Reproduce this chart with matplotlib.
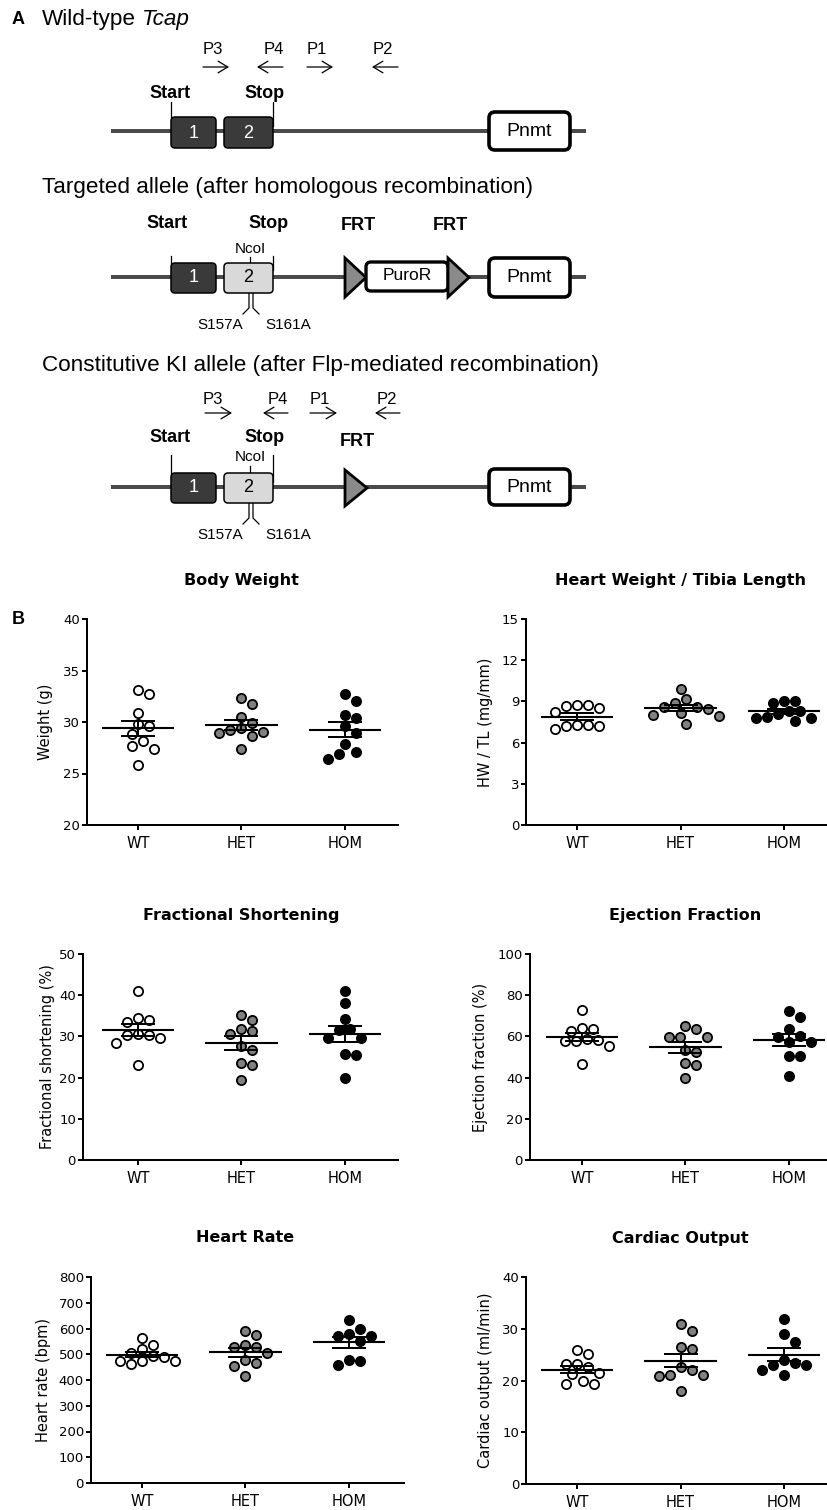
import numpy as np
import matplotlib
matplotlib.use("Agg")
import matplotlib.pyplot as plt
from matplotlib.patches import FancyBboxPatch, Polygon

# ---------------- data ----------------
groups = ["WT", "HET", "HOM"]

body_weight_wt = [32.7, 33.1, 30.9, 29.8, 29.6, 28.8, 27.7, 28.2, 27.4, 25.8]
body_weight_het = [32.3, 31.7, 30.5, 29.9, 29.2, 28.9, 28.6, 29.0, 29.4, 27.4]
body_weight_hom = [32.7, 32.0, 30.7, 30.4, 29.6, 28.9, 27.9, 27.1, 26.9, 26.4]

hwtl_wt = [8.75, 8.5, 8.2, 8.7, 8.75, 7.3, 7.2, 7.0, 7.2, 7.3]
hwtl_het = [9.9, 8.9, 9.2, 8.6, 8.6, 8.45, 8.0, 7.95, 8.15, 7.35]
hwtl_hom = [9.0, 8.9, 9.0, 8.1, 8.3, 7.8, 7.6, 7.8, 7.9, 8.3]

fs_wt = [41.0, 34.4, 33.6, 34.0, 30.3, 29.5, 28.5, 30.3, 30.7, 23.1]
fs_het = [35.2, 34.1, 31.4, 31.8, 30.5, 26.7, 27.7, 23.6, 23.1, 19.3]
fs_hom = [40.9, 38.2, 34.2, 31.6, 31.8, 29.5, 29.5, 25.7, 25.5, 20.0]

ef_wt = [72.8, 63.9, 62.6, 63.4, 57.9, 57.6, 58.3, 58.7, 55.3, 46.4]
ef_het = [65.2, 63.4, 59.5, 59.9, 59.5, 52.6, 53.4, 47.2, 46.3, 39.6]
ef_hom = [72.5, 69.3, 63.4, 60.4, 59.9, 57.4, 57.5, 50.5, 50.5, 40.9]

hr_wt = [505, 537, 520, 563, 488, 472, 462, 472, 475, 492]
hr_het = [589, 573, 527, 537, 527, 505, 479, 466, 453, 414]
hr_hom = [634, 579, 598, 570, 570, 553, 479, 475, 457]

co_wt = [25.1, 25.9, 23.2, 22.7, 23.2, 21.4, 21.2, 19.9, 19.3, 19.3]
co_het = [30.9, 29.5, 26.1, 26.4, 22.1, 22.6, 21.0, 20.8, 21.0, 18.0]
co_hom = [31.9, 29.0, 27.4, 23.4, 23.0, 24.0, 23.0, 22.1, 21.0]

# ---------------- figure ----------------
W, H, DPI = 828, 1510, 100
fig = plt.figure(figsize=(W / DPI, H / DPI), dpi=DPI)
PT = 72.0 / DPI  # points per pixel

# ================= Panel A: schematic =================
SANS = ["Liberation Sans", "DejaVu Sans"]
TITLE_FS = 16.2
axA = fig.add_axes([0, 1 - 560 / H, 1, 560 / H])
axA.set_xlim(0, W)
axA.set_ylim(560, 0)
axA.axis("off")

LINE_C = "#4a4a4a"
DARK = "#3a3a3a"
LIGHT = "#d9d9d9"
TRI_C = "#8a8a8a"


def txt(x, y, s, size, weight="normal", color="black", style="normal"):
    return axA.text(x, y, s, fontsize=size, fontweight=weight, color=color,
                    fontstyle=style, ha="center", va="center", family=SANS)


def rbox(x0, x1, y0, y1, fc, lw, r=4):
    axA.add_patch(FancyBboxPatch((x0, y0), x1 - x0, y1 - y0,
                                 boxstyle=f"round,pad=0,rounding_size={r}",
                                 fc=fc, ec="black", lw=lw, zorder=3))


def gene_line(y):
    axA.plot([111, 586], [y, y], color=LINE_C, lw=4 * PT, zorder=1,
             solid_capstyle="butt")


def vtick(x, y0, y1):
    axA.plot([x, x], [y0, y1], color="black", lw=0.9, zorder=2)


def primer(x0, x1, y):
    axA.annotate("", xy=(x1, y), xytext=(x0, y),
                 arrowprops=dict(arrowstyle="->,head_length=0.5,head_width=0.3",
                                 lw=0.9, color="black", mutation_scale=14,
                                 shrinkA=0, shrinkB=0))


def triangle(x0, ytop, ybot, xtip):
    axA.add_patch(Polygon([(x0, ytop), (x0, ybot), (xtip, (ytop + ybot) / 2)],
                          closed=True, fc=TRI_C, ec="black", lw=2.0,
                          joinstyle="miter", zorder=3))


def bracket(ybox, y_mid, y_end):
    axA.plot([249, 249, 243], [ybox, y_mid, y_end], color="black", lw=0.9)
    axA.plot([253, 253, 259], [ybox, y_mid, y_end], color="black", lw=0.9)


# panel letter + titles
axA.text(12, 20, "A", fontsize=13, fontweight="bold", ha="left", va="center", family=SANS)
t_wt = axA.text(42, 20, "Wild-type", fontsize=TITLE_FS, ha="left", va="center",
                family=SANS)
renderer = fig.canvas.get_renderer()
bb = t_wt.get_window_extent(renderer)
space_px = 0.278 * TITLE_FS / PT
axA.text(bb.x1 + space_px, 20, "Tcap", fontsize=TITLE_FS, fontstyle="italic",
         ha="left", va="center", family=SANS)
axA.text(42, 188, "Targeted allele (after homologous recombination)", fontsize=TITLE_FS,
         ha="left", va="center", family=SANS)
axA.text(42, 365, "Constitutive KI allele (after Flp-mediated recombination)",
         fontsize=TITLE_FS, ha="left", va="center", family=SANS)

# --- allele 1: wild type ---
for lab, xl, (a0, a1) in [("P3", 213, (203, 229)), ("P4", 274, (283, 257)),
                          ("P1", 317, (307, 333)), ("P2", 383, (398, 372))]:
    txt(xl, 50, lab, 12)
    primer(a0, a1, 67)
gene_line(131)
txt(170, 93, "Start", 13, "bold")
txt(265, 93, "Stop", 13, "bold")
vtick(171, 102, 117)
vtick(273, 102, 126)
rbox(171, 216, 117, 148, DARK, 1.1)
rbox(224, 273, 117, 148, DARK, 1.1)
txt(193.5, 133, "1", 13, color="white")
txt(248.5, 133, "2", 13, color="white")
rbox(489, 570, 112, 150, "white", 2.6, r=6)
txt(529.5, 131, "Pnmt", 14)

# --- allele 2: targeted ---
gene_line(277)
txt(167, 224, "Start", 13, "bold")
txt(269, 224, "Stop", 13, "bold")
txt(358, 226, "FRT", 13, "bold")
txt(450, 226, "FRT", 13, "bold")
txt(250, 249, "NcoI", 11)
vtick(171, 256, 263)
vtick(273, 256, 270)
vtick(250, 257, 263)
rbox(171, 216, 263, 293, DARK, 1.1)
rbox(224, 273, 263, 293, LIGHT, 1.1)
txt(193.5, 278, "1", 13, color="white")
txt(248.5, 278, "2", 13)
bracket(293, 308, 314)
txt(220, 325, "S157A", 11)
txt(288, 325, "S161A", 11)
triangle(345, 258, 297, 366)
rbox(366, 448, 262, 291, "white", 2.4, r=5)
txt(407, 275, "PuroR", 12.5)
triangle(448, 258, 297, 469)
rbox(489, 570, 258, 297, "white", 2.6, r=6)
txt(529.5, 278, "Pnmt", 14)

# --- allele 3: constitutive KI ---
for lab, xl, (a0, a1) in [("P3", 213, (205, 232)), ("P4", 278, (288, 263)),
                          ("P1", 320, (310, 337)), ("P2", 387, (400, 375))]:
    txt(xl, 400, lab, 12)
    primer(a0, a1, 413)
gene_line(487)
txt(170, 438, "Start", 13, "bold")
txt(265, 438, "Stop", 13, "bold")
txt(357, 442, "FRT", 13, "bold")
txt(250, 457, "NcoI", 11)
vtick(171, 455, 473)
vtick(273, 455, 482)
vtick(250, 466, 473)
rbox(171, 216, 473, 503, DARK, 1.1)
rbox(224, 273, 473, 503, LIGHT, 1.1)
txt(193.5, 488, "1", 13, color="white")
txt(248.5, 488, "2", 13)
bracket(503, 518, 524)
txt(220, 535, "S157A", 11)
txt(288, 535, "S161A", 11)
triangle(345, 470, 506, 367)
rbox(489, 570, 469, 505, "white", 2.6, r=6)
txt(529.5, 487, "Pnmt", 14)

# ================= Panel B: scatter plots =================
plt.rcParams["font.family"] = ["DejaVu Sans"]
fig.text(12 / W, 1 - 620 / H, "B", fontsize=13, fontweight="bold", ha="left",
         va="center", family=SANS)

FILLS = ["white", "#808080", "black"]
SPACING = 103.5
DIAM = 11.0  # centre-to-centre minimum distance in px
YLAB_FS = 10.5


def swarm(values, ppu_y, ppu_x):
    vals = np.asarray(values, float)
    order = np.argsort(-vals)
    placed = []
    offs = np.zeros(len(vals))
    step = DIAM / 2.0
    cands = [0]
    for k in range(1, 20):
        cands += [k, -k]
    for i in order:
        y = vals[i] * ppu_y
        for k in cands:
            x = k * step
            if all((x - px) ** 2 + (y - py) ** 2 >= DIAM ** 2 for px, py in placed):
                break
        placed.append((x, y))
        offs[i] = x / ppu_x
    return offs


def panel(left, right, top, bottom, wt_px, data, ylim, yticks, ylabel, title,
          ylab_center_dist):
    ax = fig.add_axes([left / W, 1 - bottom / H, (right - left) / W, (bottom - top) / H])
    ax.set_xlim((left - wt_px) / SPACING, (right - wt_px) / SPACING)
    ax.set_ylim(*ylim)
    ppu_y = (bottom - top) / (ylim[1] - ylim[0])
    for i, vals in enumerate(data):
        vals = np.asarray(vals, float)
        offs = swarm(vals, ppu_y, SPACING)
        ax.scatter(i + offs, vals, s=44, facecolor=FILLS[i], edgecolor="black",
                   linewidth=1.3, zorder=3, clip_on=False)
        m = vals.mean()
        sem = vals.std(ddof=1) / np.sqrt(len(vals))
        ax.hlines(m, i - 0.35, i + 0.35, color="black", lw=2 * PT * 1.05, zorder=4)
        ax.errorbar(i, m, yerr=sem, fmt="none", ecolor="black", elinewidth=2 * PT,
                    capsize=17 * PT, capthick=2 * PT, zorder=4)
    for s in ["top", "right"]:
        ax.spines[s].set_visible(False)
    for s in ["left", "bottom"]:
        ax.spines[s].set_linewidth(2 * PT)
        ax.spines[s].set_capstyle("projecting")
    ax.set_xticks(range(3))
    ax.set_xticklabels(groups)
    ax.set_yticks(yticks)
    ax.tick_params(axis="x", length=5 * PT, width=2 * PT, labelsize=10.5, pad=6 * PT)
    ax.tick_params(axis="y", length=5 * PT, width=2 * PT, labelsize=9.5, pad=2 * PT)
    ax.set_ylabel(ylabel, fontsize=YLAB_FS)
    half_thick = 0.58 * YLAB_FS / PT
    ax.yaxis.set_label_coords(-(ylab_center_dist - half_thick) / (right - left), 0.5)
    ax.annotate(title, xy=(1, 1), xycoords=("data", "axes fraction"),
                xytext=(0, 39 * PT), textcoords="offset points", ha="center",
                va="center", fontsize=11.5, fontweight="bold")
    return ax


panel(87, 398, 619, 825, 138, [body_weight_wt, body_weight_het, body_weight_hom],
      (20, 40), [20, 25, 30, 35, 40], "Weight (g)", "Body Weight", 42)
panel(526, 828, 619, 825, 577, [hwtl_wt, hwtl_het, hwtl_hom],
      (0, 15), [0, 3, 6, 9, 12, 15], "HW / TL (mg/mm)", "Heart Weight / Tibia Length", 41)
panel(83, 398, 954, 1160, 138, [fs_wt, fs_het, fs_hom],
      (0, 50), [0, 10, 20, 30, 40, 50], "Fractional shortening (%)",
      "Fractional Shortening", 36)
panel(530, 828, 954, 1160, 582, [ef_wt, ef_het, ef_hom],
      (0, 100), [0, 20, 40, 60, 80, 100], "Ejection fraction (%)",
      "Ejection Fraction", 50)
panel(91, 404, 1277, 1483, 142, [hr_wt, hr_het, hr_hom],
      (0, 800), list(range(0, 801, 100)), "Heart rate (bpm)", "Heart Rate", 48)
panel(526, 828, 1277, 1484, 577, [co_wt, co_het, co_hom],
      (0, 40), [0, 10, 20, 30, 40], "Cardiac output (ml/min)", "Cardiac Output", 41)

fig.savefig("out.png", dpi=DPI, facecolor="white")
